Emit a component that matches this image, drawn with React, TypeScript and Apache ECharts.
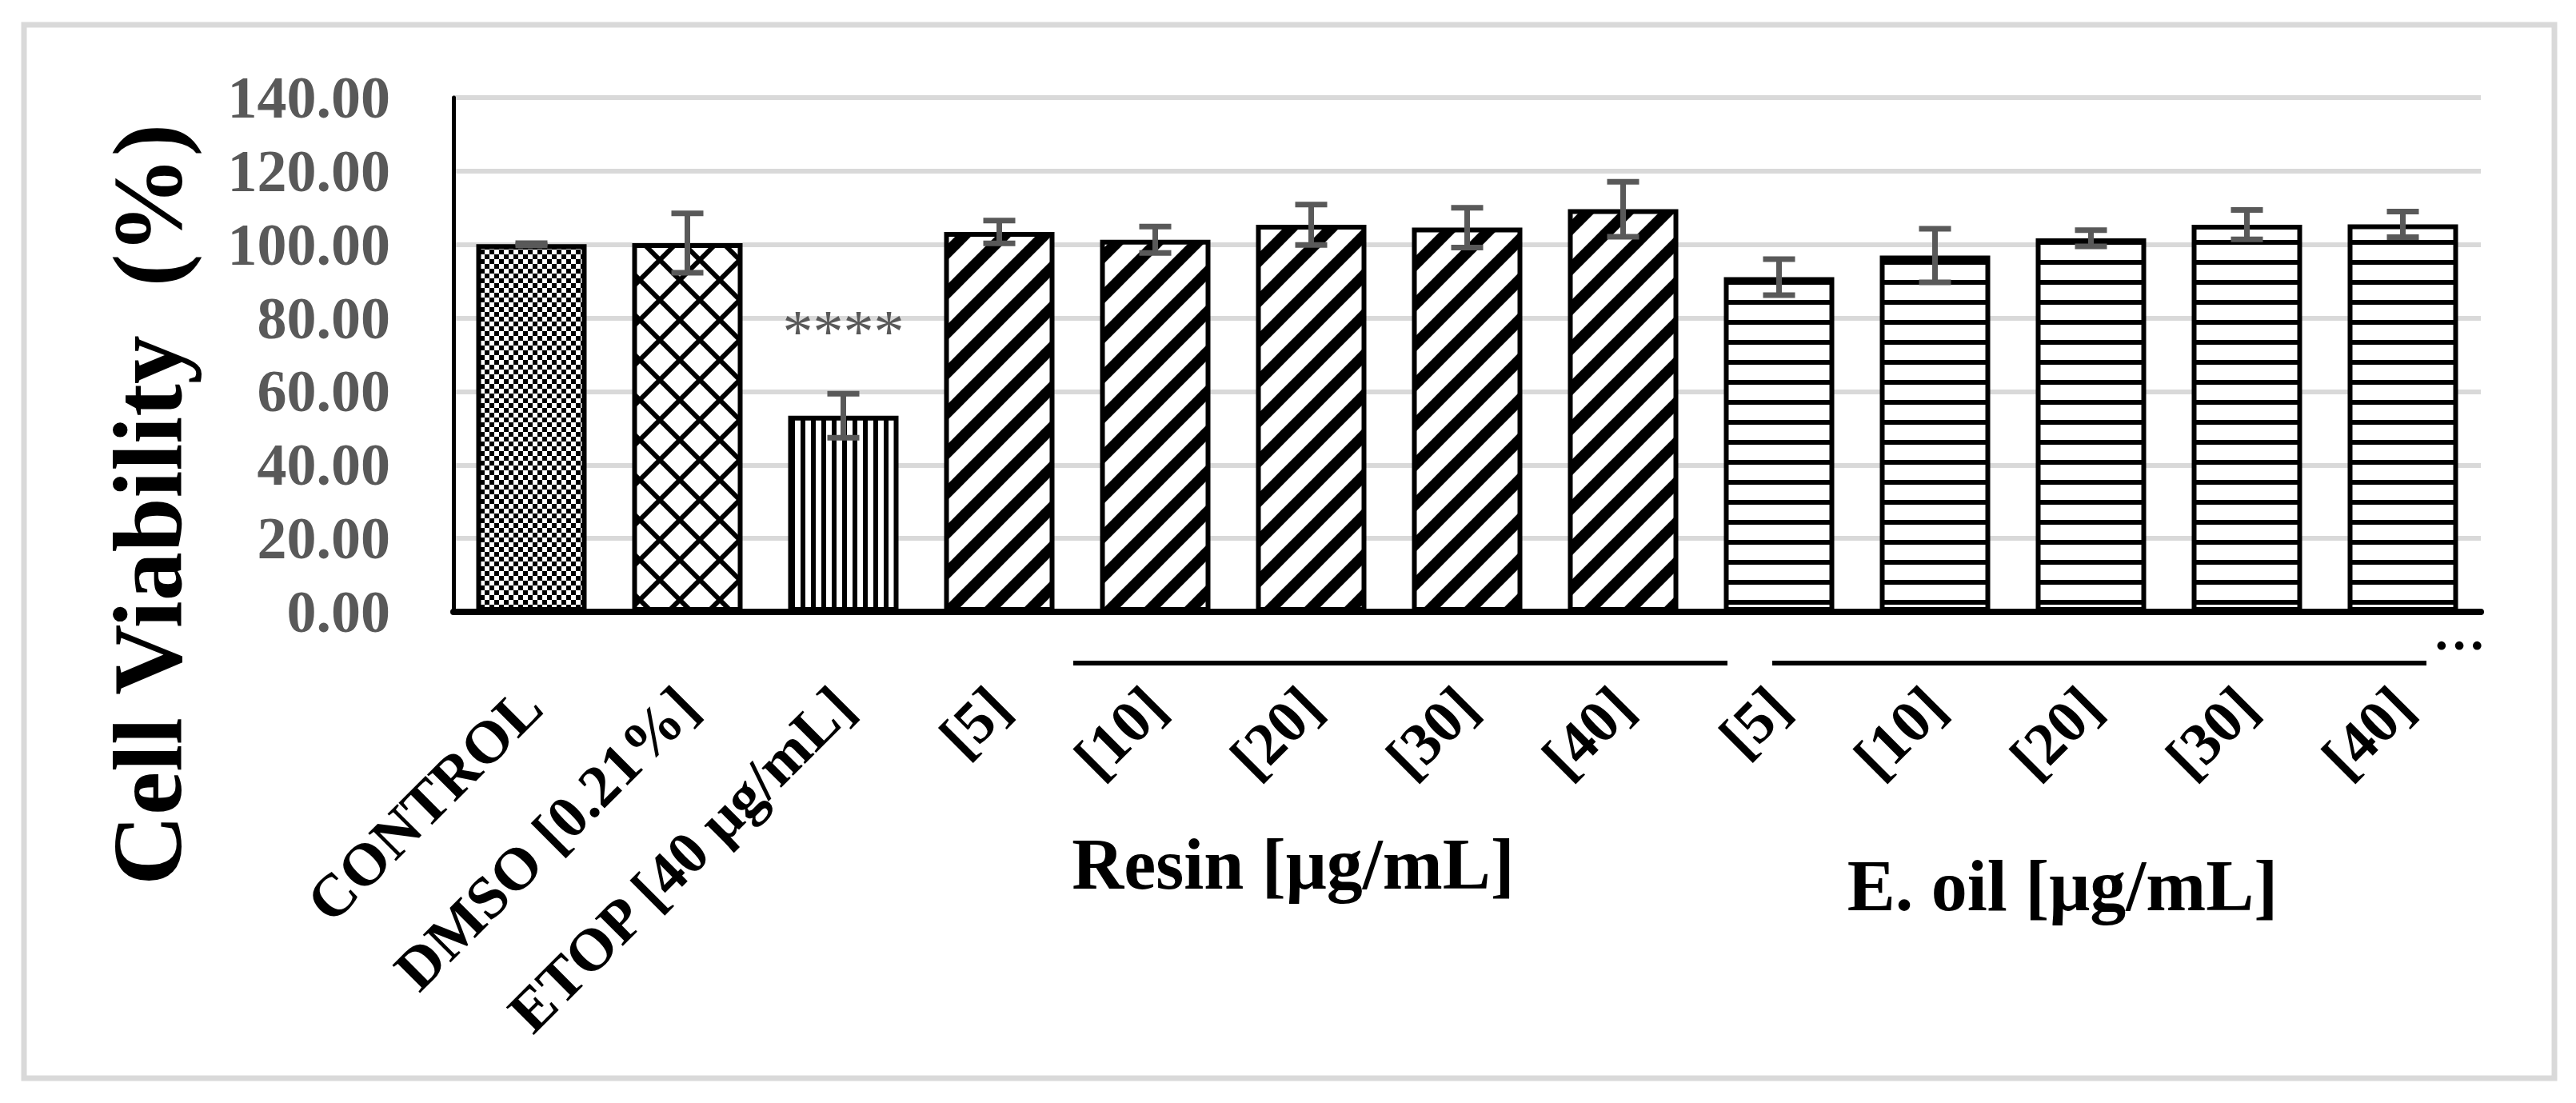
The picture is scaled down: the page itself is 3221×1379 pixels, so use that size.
import React, { useEffect, useRef } from "react";
import * as echarts from "echarts";

// chart data
const categories = [
  "CONTROL",
  "DMSO [0.21%]",
  "ETOP [40 μg/mL]",
  "[5]",
  "[10]",
  "[20]",
  "[30]",
  "[40]",
  "[5]",
  "[10]",
  "[20]",
  "[30]",
  "[40]",
];
const viability = [100.1, 100.4, 53.4, 103.4, 101.3, 105.4, 104.6, 109.6, 91.1, 97.0, 101.7, 105.4, 105.5];
const errors = [0.3, 8.1, 6.0, 3.1, 3.6, 5.5, 5.4, 7.5, 4.9, 7.3, 2.2, 4.0, 3.5];
const significance = ["", "", "****", "", "", "", "", "", "", "", "", "", ""];
// which hatch each bar gets
const fills = ["checker", "diamond", "vertical", "diagonal", "diagonal", "diagonal", "diagonal", "diagonal", "horizontal", "horizontal", "horizontal", "horizontal", "horizontal"];
const groupLabels = ["Resin [μg/mL]", "E. oil [μg/mL]"];

const FONT = "'Liberation Serif', 'Times New Roman', serif";
const GREY = "#595959";

function tile(w: number, h: number, draw: (ctx: CanvasRenderingContext2D) => void) {
  const c = document.createElement("canvas");
  c.width = w;
  c.height = h;
  const ctx = c.getContext("2d")!;
  ctx.fillStyle = "#fff";
  ctx.fillRect(0, 0, w, h);
  ctx.fillStyle = "#000";
  ctx.strokeStyle = "#000";
  draw(ctx);
  return { image: c, repeat: "repeat", imageWidth: w, imageHeight: h } as any;
}

function makePatterns() {
  return {
    checker: tile(12, 12, (ctx) => {
      ctx.fillRect(0, 0, 6, 6);
      ctx.fillRect(6, 6, 6, 6);
    }),
    diamond: tile(50, 50, (ctx) => {
      ctx.lineWidth = 6;
      ctx.beginPath();
      ctx.moveTo(-10, -10);
      ctx.lineTo(60, 60);
      ctx.moveTo(60, -10);
      ctx.lineTo(-10, 60);
      ctx.stroke();
    }),
    vertical: tile(13, 13, (ctx) => {
      ctx.fillRect(0, 0, 6, 13);
    }),
    diagonal: tile(50, 50, (ctx) => {
      const S = 50;
      ctx.lineWidth = 14;
      ctx.beginPath();
      for (const k of [-1, 0, 1]) {
        ctx.moveTo(-S + k * S, 2 * S);
        ctx.lineTo(2 * S + k * S, -S);
      }
      ctx.stroke();
    }),
    horizontal: tile(25, 25, (ctx) => {
      ctx.fillRect(0, 0, 25, 6);
    }),
  } as Record<string, any>;
}

const App: React.FC = () => {
  const chartRef = useRef<HTMLDivElement>(null);

  useEffect(() => {
    const chart = echarts.init(chartRef.current, null, { renderer: "svg" });
    const patterns = makePatterns();

    const option: echarts.EChartsOption = {
      animation: false,
      backgroundColor: "#fff",
      grid: { left: 567, right: 119, top: 122, bottom: 614 },
      xAxis: {
        type: "category",
        data: categories,
        axisLine: { show: true, lineStyle: { color: "#000", width: 8 } },
        axisTick: { show: false },
        axisLabel: {
          interval: 0,
          rotate: 45,
          margin: 106,
          color: "#000",
          fontFamily: FONT,
          fontWeight: "bold",
          fontSize: 75,
        },
      },
      yAxis: {
        type: "value",
        min: 0,
        max: 140,
        interval: 20,
        axisLine: { show: true, lineStyle: { color: "#000", width: 5 } },
        axisTick: { show: false },
        splitLine: { show: true, lineStyle: { color: "#d9d9d9", width: 6 } },
        axisLabel: {
          margin: 79,
          color: GREY,
          fontFamily: FONT,
          fontWeight: "bold",
          fontSize: 74,
          formatter: (v: number) => v.toFixed(2),
        },
      },
      series: [
        {
          type: "bar",
          barWidth: 138,
          data: viability.map((v, i) => ({
            value: v,
            itemStyle: { color: patterns[fills[i]], borderColor: "#000", borderWidth: 6 },
          })),
          label: {
            show: true,
            position: "top",
            distance: 68,
            color: GREY,
            fontFamily: FONT,
            fontSize: 76,
            formatter: (p: any) => significance[p.dataIndex],
          },
          z: 2,
        },
        {
          // error bars
          type: "custom",
          z: 3,
          data: viability.map((v, i) => [i, v, errors[i]]),
          encode: { x: 0, y: 1 },
          renderItem: (params: any, api: any) => {
            const x = api.value(0);
            const v = api.value(1);
            const e = api.value(2);
            const top = api.coord([x, v + e]);
            const bot = api.coord([x, v - e]);
            const hw = 20;
            const style = { stroke: GREY, lineWidth: 7 };
            return {
              type: "group",
              children: [
                { type: "line", shape: { x1: top[0], y1: top[1], x2: bot[0], y2: bot[1] }, style },
                { type: "line", shape: { x1: top[0] - hw, y1: top[1], x2: top[0] + hw, y2: top[1] }, style },
                { type: "line", shape: { x1: bot[0] - hw, y1: bot[1], x2: bot[0] + hw, y2: bot[1] }, style },
              ],
            } as any;
          },
        },
      ],
      graphic: [
        {
          type: "rect",
          shape: { x: 30, y: 31, width: 3164, height: 1317 },
          style: { fill: "transparent", stroke: "#d9d9d9", lineWidth: 7 },
          z: 0,
        },
        {
          type: "text",
          x: 184,
          y: 631,
          rotation: Math.PI / 2,
          style: {
            text: "Cell Viability  (%)",
            font: `bold 122px ${FONT}`,
            fill: "#000",
            textAlign: "center",
            textVerticalAlign: "middle",
          },
        },
        {
          type: "line",
          shape: { x1: 1342, y1: 829, x2: 2160, y2: 829 },
          style: { stroke: "#000", lineWidth: 6 },
        },
        {
          type: "line",
          shape: { x1: 2216, y1: 829, x2: 3034, y2: 829 },
          style: { stroke: "#000", lineWidth: 6 },
        },
        {
          type: "text",
          x: 3075,
          y: 789,
          style: {
            text: "…",
            font: `bold 66px ${FONT}`,
            fill: "#000",
            textAlign: "center",
            textVerticalAlign: "middle",
          },
        },
        {
          type: "text",
          x: 1617,
          y: 1080,
          style: {
            text: groupLabels[0],
            font: `bold 90px ${FONT}`,
            fill: "#000",
            textAlign: "center",
            textVerticalAlign: "middle",
          },
        },
        {
          type: "text",
          x: 2579,
          y: 1107,
          style: {
            text: groupLabels[1],
            font: `bold 90px ${FONT}`,
            fill: "#000",
            textAlign: "center",
            textVerticalAlign: "middle",
          },
        },
      ],
    };

    chart.setOption(option);
    const onResize = () => chart.resize();
    window.addEventListener("resize", onResize);
    return () => {
      window.removeEventListener("resize", onResize);
      chart.dispose();
    };
  }, []);

  return (
    <div
      ref={chartRef}
      style={{ position: "fixed", left: 0, top: 0, width: "100vw", height: "100vh" }}
    />
  );
};

export default App;
